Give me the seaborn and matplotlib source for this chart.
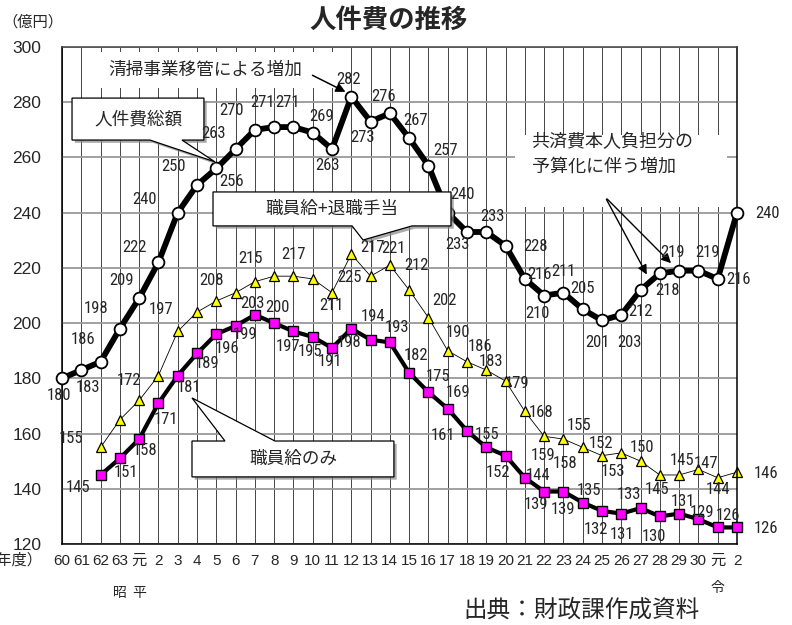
import matplotlib
matplotlib.use('Agg')
import matplotlib.pyplot as plt
import matplotlib.patheffects as pe
from matplotlib import font_manager
from matplotlib.patches import Polygon, Rectangle
from matplotlib.transforms import blended_transform_factory
import seaborn as sns
import pandas as pd
import numpy as np

# 年度（昭和60年度〜令和2年度）
years = ['60', '61', '62', '63', '元', '2', '3', '4', '5', '6', '7', '8', '9', '10',
         '11', '12', '13', '14', '15', '16', '17', '18', '19', '20', '21', '22', '23',
         '24', '25', '26', '27', '28', '29', '30', '元', '2']

# 人件費総額（億円）
total = [180, 183, 186, 198, 209, 222, 240, 250, 256, 263, 270, 271, 271, 269, 263,
         282, 273, 276, 267, 257, 240, 233, 233, 228, 216, 210, 211, 205, 201, 203,
         212, 218, 219, 219, 216, 240]

# 職員給+退職手当（昭和62年度から）
salary_retire = [np.nan, np.nan, 155, 165, 172, 181, 197, 204, 208, 211, 215, 217, 217,
                 216, 211, 225, 217, 221, 212, 202, 190, 186, 183, 179, 168, 159, 158,
                 155, 152, 153, 150, 145, 145, 147, 144, 146]

# 職員給のみ
salary = [np.nan, np.nan, 145, 151, 158, 171, 181, 189, 196, 199, 203, 200, 197, 195,
          191, 198, 194, 193, 182, 175, 169, 161, 155, 152, 144, 139, 139, 135, 132,
          131, 133, 130, 131, 129, 126, 126]

# label offsets in pixels (dx, dy downwards); None = label not shown
total_off = [(-3, 17), (7, 17), (-18, -22), (-24, -20), (-18, -18), (-24, -15), (-33, -13),
             (-24, -19), (15, 13), (-22, -16), (-23, -19), (-12, -25), (-6, -25), (9, -16),
             (-5, 16), (-3, -17), (-8, 16), (-6, -17), (6, -18), (17, -15), (15, -18),
             (-10, 13), (6, -15), (30, 1), (15, -4), (-7, 18), (0, -21), (0, -21), (-5, 22),
             (8, 28), (0, 22), (8, 17), (-7, -18), (9, -18), (21, 1), (30, 1)]
retire_off = [None, None, (-30, -9), None, (-10, -20), None, (-17, -22), None, (-5, -21),
              None, (-4, -23), None, (0, -22), None, (-1, 13), (-2, 23), (2, -29), (4, -17),
              (7, -24), (16, -17), (10, -18), (13, -15), (5, -9), (11, 2), (16, 1), (-1, 19),
              (2, 24), (-4, -22), (-1, -12), (-8, 19), (1, -14), (-3, 15), (3, -14), (8, -6),
              (0, 12), (29, 1)]
salary_off = [None, None, (-23, 13), (6, 14), (6, 11), (8, 16), (11, 12), (10, 10), (11, 14),
              (9, 9), (-2, -11), (3, -16), (-5, 15), (-3, 15), (-2, 14), (-2, 14), (2, -23),
              (7, -15), (7, -17), (10, -16), (10, -16), (-24, 5), (1, -13), (-8, 17), (13, -2),
              (-8, 13), (0, 18), (6, -12), (-6, 19), (1, 21), (-12, -14), (-6, 20), (4, -12),
              (4, -7), (10, -12), (29, 1)]

sns.set_style("white")
plt.rcParams['font.family'] = ['Liberation Sans', 'Noto Sans CJK JP', 'DejaVu Sans']
jp = ['Noto Sans CJK JP', 'DejaVu Sans']


# the data labels are in a narrow face; pick one if installed
def narrow_font():
    prefs = [('Liberation Sans Narrow', 12.5), ('Roboto Condensed', 12), ('DejaVu Sans', 11)]
    for name, size in prefs:
        for f in font_manager.fontManager.ttflist:
            if f.name != name or f.style != 'normal' or f.weight not in (400, 'normal', 'regular'):
                continue
            if name == 'DejaVu Sans' and f.stretch != 'condensed':
                continue
            return font_manager.FontProperties(fname=f.fname, size=size)
    return font_manager.FontProperties(family='Liberation Sans', size=10.5)


lab_font = narrow_font()

df = pd.DataFrame({'idx': np.arange(len(years)), 'total': total,
                   'retire': salary_retire, 'salary': salary})

fig = plt.figure(figsize=(7.92, 6.25), dpi=100)
ax = fig.add_axes([62 / 792, 1 - 544 / 625, 675 / 792, 497 / 625])

# grid
ax.set_xlim(0, 35)
ax.set_ylim(120, 300)
ax.set_xticks(df['idx'])
ax.set_xticklabels(years)
ax.set_yticks(np.arange(120, 301, 20))
ax.grid(axis='x', color='#444444', lw=0.7, zorder=0)
ax.grid(axis='y', color='#999999', lw=1.3, zorder=0)
ax.set_axisbelow(True)
ax.tick_params(axis='x', length=0, pad=7, labelsize=11)
ax.tick_params(axis='y', length=0, pad=15, labelsize=12.5)
for s in ax.spines.values():
    s.set_color('black')
    s.set_linewidth(1.1)
ax.spines['top'].set_color('#444444')

sns.lineplot(data=df, x='idx', y='retire', ax=ax, estimator=None, color='black', lw=0.6,
             marker='^', markersize=7, markerfacecolor='#FFFF00', markeredgecolor='black',
             markeredgewidth=0.9, zorder=2, clip_on=False)
sns.lineplot(data=df, x='idx', y='salary', ax=ax, estimator=None, color='black', lw=3,
             marker='s', markersize=7, markerfacecolor='#FF00FF', markeredgecolor='black',
             markeredgewidth=1.0, zorder=3, clip_on=False)
sns.lineplot(data=df, x='idx', y='total', ax=ax, estimator=None, color='black', lw=4.2,
             marker='o', markersize=8.5, markerfacecolor='white', markeredgecolor='black',
             markeredgewidth=1.3, zorder=4, clip_on=False)
ax.set_xlabel('')
ax.set_ylabel('')


def put_labels(values, offsets):
    for i, (v, off) in enumerate(zip(values, offsets)):
        if off is None or np.isnan(v):
            continue
        ax.annotate(f'{int(v)}', (i, v), xytext=(off[0], -off[1]), textcoords='offset pixels',
                    ha='center', va='center', fontproperties=lab_font,
                    zorder=8, annotation_clip=False)


put_labels(total, total_off)
put_labels(salary_retire, retire_off)
put_labels(salary, salary_off)

# callout boxes
shadow = [pe.withSimplePatchShadow(offset=(2, -2), shadow_rgbFace='#888888', alpha=0.7)]
callouts = [
    ('人件費総額', [(0.52, 281.5), (7.36, 281.5), (7.36, 266.3), (6.22, 266.3),
                   (7.93, 258.4), (4.56, 266.3), (0.52, 266.3)], (3.94, 273.9)),
    ('職員給+退職手当', [(7.83, 247.5), (20.17, 247.5), (20.17, 235.2), (18.15, 235.2),
                        (15.61, 230.1), (15.04, 235.2), (7.83, 235.2)], (14.0, 241.3)),
    ('職員給のみ', [(6.74, 157.3), (8.45, 157.3), (6.74, 172.9), (11.04, 157.3),
                  (17.21, 157.3), (17.21, 144.3), (6.74, 144.3)], (11.98, 150.8)),
]
for text, verts, center in callouts:
    poly = Polygon(verts, closed=True, facecolor='white', edgecolor='black', lw=0.9,
                   zorder=6, path_effects=shadow)
    ax.add_patch(poly)
    ax.text(center[0], center[1], text, ha='center', va='center', fontsize=12.7,
            family=jp, zorder=7)

# annotations with arrows
ax.add_patch(Rectangle((1.71, 285.2), 12.7, 13.0, facecolor='white', edgecolor='none', zorder=1))
ax.text(12.44, 291.7, '清掃事業移管による増加', ha='right', va='center', fontsize=12.7,
        family=jp, zorder=7)
ax.annotate('', xy=(14.83, 283.3), xytext=(12.86, 290.2),
            arrowprops=dict(arrowstyle='-|>', color='black', lw=1.1, mutation_scale=14),
            zorder=7)

ax.add_patch(Rectangle((23.49, 242.05), 10.99, 26.05, facecolor='white', edgecolor='none',
                       zorder=1))
ax.text(24.35, 261.0, '共済費本人負担分の\n予算化に伴う増加', ha='left', va='center',
        fontsize=13, family=jp, linespacing=1.5, zorder=7)
for end in [(30.39, 216.7), (31.68, 221.0)]:
    ax.annotate('', xy=end, xytext=(28.16, 245.7),
                arrowprops=dict(arrowstyle='-|>', color='black', lw=1.0, mutation_scale=14),
                zorder=7)

# era marks under the x axis
tr = blended_transform_factory(ax.transData, ax.transAxes)
ax.text(3, -0.099, '昭', transform=tr, ha='center', va='center', fontsize=10, family=jp)
ax.text(4, -0.099, '平', transform=tr, ha='center', va='center', fontsize=10, family=jp)
ax.text(34, -0.088, '令', transform=tr, ha='center', va='center', fontsize=10, family=jp)

fig.text(389 / 792, 1 - 20 / 625, '人件費の推移', ha='center', va='center', fontsize=19,
         family=jp, weight='bold')
fig.text(2 / 792, 1 - 22 / 625, '（億円）', ha='left', va='center', fontsize=11, family=jp)
fig.text(42 / 792, 1 - 560 / 625, '（年度）', ha='right', va='center', fontsize=11, family=jp)
fig.text(582 / 792, 1 - 610 / 625, '出典：財政課作成資料', ha='center', va='center',
         fontsize=17, family=jp)

fig.savefig('out.png', dpi=100)
